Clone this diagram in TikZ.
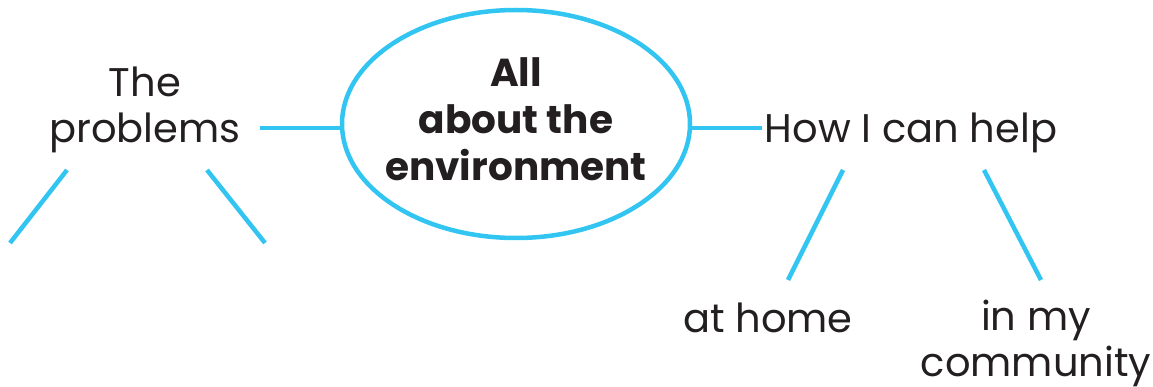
\documentclass[tikz,border=0pt]{standalone}
\usepackage{fontspec}
\setmainfont{Poppins}
\definecolor{skyblue}{HTML}{33C5F2}
\definecolor{ink}{HTML}{231F20}
\usetikzlibrary{shapes.geometric}
\tikzset{
  conn/.style={draw=skyblue, line width=4.5pt},
  label/.style={text=ink, font=\fontsize{40}{46}\selectfont, inner sep=0pt, align=center},
  hub/.style={ellipse, draw=skyblue, line width=4.5pt, minimum width=348pt, minimum height=228pt,
    inner xsep=-20pt, inner ysep=0pt,
    text=ink, font=\bfseries\fontsize{39}{47}\selectfont}
}
\begin{document}
\begin{tikzpicture}[x=1pt,y=-1pt]
\useasboundingbox (0,0) rectangle (1153,387);
\node[hub] (center) at (516,124) {\raisebox{12pt}{\begin{tabular}{@{}c@{}}All\\about the\\environment\end{tabular}}};
\node[label, anchor=base] (problems) at (145,143) {The\\problems};
\node[label, anchor=base] (help) at (911,143) {How I can help};
\node[label, anchor=base] (home) at (768,332) {at home};
\node[label, anchor=base] (community) at (1036,376) {in my\\community};
\coordinate (pl) at (260,128);
\coordinate (hr) at (762,128);
\coordinate (p1a) at (67,170);
\coordinate (p1b) at (10,243);
\coordinate (p2a) at (207,170);
\coordinate (p2b) at (265,243);
\coordinate (h1a) at (843,170);
\coordinate (h1b) at (788,280);
\coordinate (h2a) at (984,170);
\coordinate (h2b) at (1041,280);
\draw[conn] (pl) -- (pl -| center.west);
\draw[conn] (hr) -- (hr -| center.east);
\draw[conn] (p1a) -- (p1b);
\draw[conn] (p2a) -- (p2b);
\draw[conn] (h1a) -- (h1b);
\draw[conn] (h2a) -- (h2b);
\end{tikzpicture}
\end{document}
